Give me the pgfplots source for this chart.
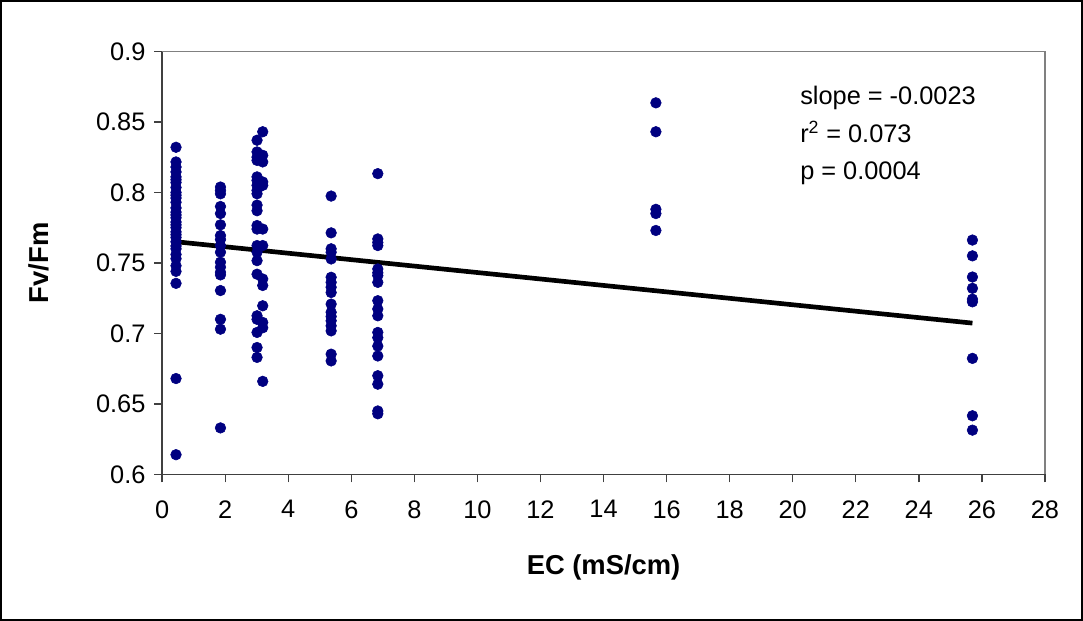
\documentclass[border=0pt]{standalone}
\usepackage{fontspec}
\setmainfont{Liberation Sans}
\usepackage{pgfplots}
\pgfplotsset{compat=1.18}
\definecolor{navy}{HTML}{000080}
\begin{document}
\fontsize{19}{23}\selectfont
\begin{tikzpicture}
\draw[line width=1.5pt] (-120.75pt,-108.75pt) rectangle (689.25pt,354.75pt);
\begin{axis}[
  at={(0pt,0pt)}, anchor=south west,
  scale only axis, width=661.5pt, height=317pt,
  xmin=0, xmax=28, ymin=0.6, ymax=0.9,
  xtick={0,2,...,28},
  ytick={0.6,0.65,0.7,0.75,0.8,0.85,0.9},
  axis x line*=bottom, axis y line*=left,
  axis line style={-, line width=1pt, black!75},
  tick align=outside, major tick length=6pt,
  tick style={line width=1pt, black!75},
  /pgf/number format/assume math mode=true,
  yticklabel style={/pgf/number format/fixed, /pgf/number format/precision=2},
  xticklabel style={yshift=-7pt},
  ticklabel style={font=\fontsize{19}{23}\selectfont},
  xlabel={\textbf{EC (mS/cm)}},
  ylabel={\textbf{Fv/Fm}},
  label style={font=\fontsize{20.5}{24}\selectfont},
  x label style={at={(axis description cs:0.5,-0.22)}, anchor=center},
  y label style={at={(axis description cs:-0.1395,0.5)}, anchor=center},
  clip=false,
]
\draw[gray, line width=1.2pt] (rel axis cs:0,1) -- (rel axis cs:1,1) -- (rel axis cs:1,0);
\addplot[only marks, mark=*, mark size=4pt, mark options={draw=navy, fill=navy}] coordinates {
(0.44,0.832)(0.44,0.8216)(0.44,0.818)(0.44,0.8145)(0.44,0.811)(0.44,0.809)(0.44,0.807)(0.44,0.8035)
(0.44,0.800)(0.44,0.798)(0.44,0.796)(0.44,0.793)(0.44,0.789)(0.44,0.786)(0.44,0.784)(0.44,0.782)
(0.44,0.779)(0.44,0.777)(0.44,0.775)(0.44,0.772)(0.44,0.770)(0.44,0.768)(0.44,0.765)(0.44,0.762)
(0.44,0.760)(0.44,0.756)(0.44,0.753)(0.44,0.748)(0.44,0.744)(0.44,0.7355)(0.44,0.668)(0.44,0.614)
(1.85,0.8038)(1.85,0.8014)(1.85,0.799)(1.85,0.790)(1.85,0.785)(1.85,0.777)(1.85,0.7694)(1.85,0.7666)
(1.85,0.7623)(1.85,0.7576)(1.85,0.7505)(1.85,0.747)(1.85,0.7434)(1.85,0.7415)(1.85,0.7304)(1.85,0.710)
(1.85,0.703)(1.85,0.633)
(3.01,0.837)(3.01,0.8287)(3.01,0.825)(3.01,0.8227)(3.01,0.811)(3.01,0.8085)(3.01,0.805)(3.01,0.8014)
(3.01,0.799)(3.01,0.791)(3.01,0.787)(3.01,0.7765)(3.01,0.774)(3.01,0.7623)(3.01,0.7576)(3.01,0.7516)
(3.01,0.742)(3.01,0.7125)(3.01,0.710)(3.01,0.7007)(3.01,0.690)(3.01,0.683)
(3.19,0.843)(3.19,0.8263)(3.19,0.8216)(3.19,0.8074)(3.19,0.805)(3.19,0.774)(3.19,0.7623)(3.19,0.7386)
(3.19,0.734)(3.19,0.7196)(3.19,0.7078)(3.19,0.704)(3.19,0.666)
(5.36,0.7974)(5.36,0.7713)(5.36,0.760)(5.36,0.7575)(5.36,0.7528)(5.36,0.7398)(5.36,0.7362)(5.36,0.7327)
(5.36,0.729)(5.36,0.7208)(5.36,0.715)(5.36,0.712)(5.36,0.709)(5.36,0.7054)(5.36,0.7018)(5.36,0.6853)
(5.36,0.6805)
(6.84,0.8133)(6.84,0.767)(6.84,0.7645)(6.84,0.7623)(6.84,0.7457)(6.84,0.743)(6.84,0.741)(6.84,0.7362)
(6.84,0.7232)(6.84,0.7173)(6.84,0.7125)(6.84,0.7007)(6.84,0.697)(6.84,0.691)(6.84,0.684)(6.84,0.670)
(6.84,0.664)(6.84,0.645)(6.84,0.643)
(15.66,0.8635)(15.66,0.843)(15.66,0.788)(15.66,0.785)(15.66,0.773)
(25.7,0.7662)(25.7,0.755)(25.7,0.740)(25.7,0.732)(25.7,0.7243)(25.7,0.7224)(25.7,0.6823)(25.7,0.6416)
(25.7,0.6314)
};
\addplot[black, line width=3.5pt, no marks] coordinates {(0.44,0.765)(25.7,0.7073)};
\node[anchor=base west, inner sep=0pt] at (axis cs:20.23,0.8626) {slope = -0.0023};
\node[anchor=base west, inner sep=0pt] at (axis cs:20.23,0.8357) {r\textsuperscript{2} = 0.073};
\node[anchor=base west, inner sep=0pt] at (axis cs:20.23,0.8094) {p = 0.0004};
\end{axis}
\end{tikzpicture}
\end{document}
